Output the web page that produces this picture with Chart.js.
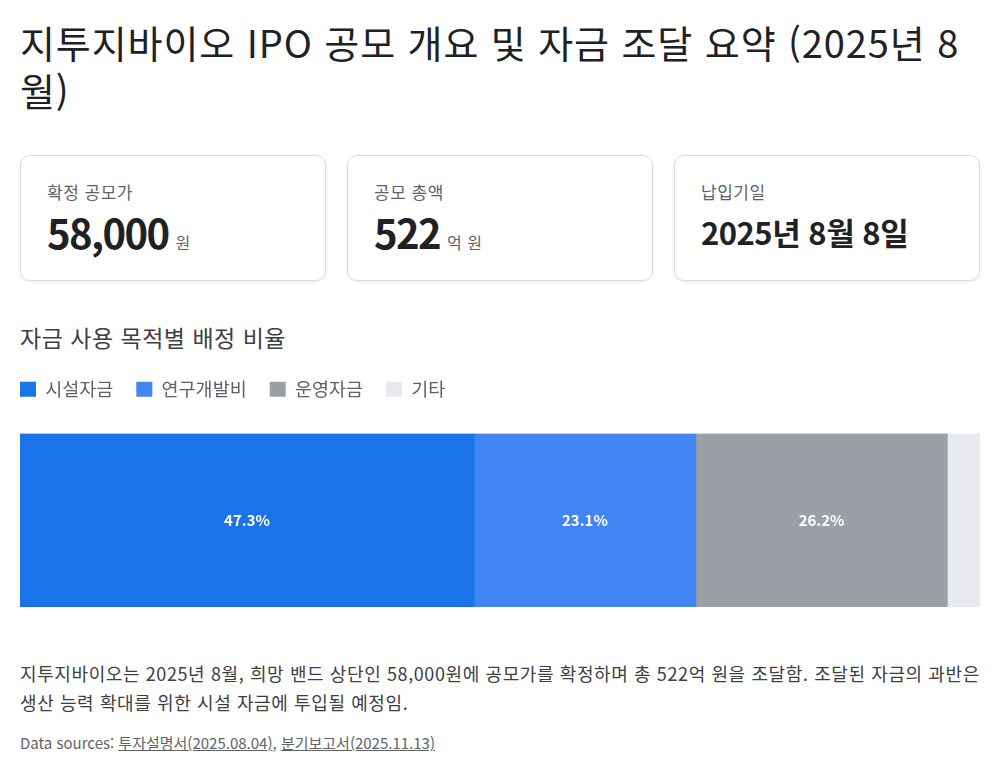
<!DOCTYPE html>
<html lang="ko">
<head>
<meta charset="utf-8">
<script src="https://cdn.jsdelivr.net/npm/chart.js@4.4.1/dist/chart.umd.min.js"></script>
<style>
  html, body { margin: 0; padding: 0; background: #fff; }
  body { width: 1000px; height: 773px; overflow: hidden; font-family: "Noto Sans CJK KR", "Noto Sans", sans-serif; color: #202124; }
  .wrap { padding: 0 20px; }
  h1 { margin: 0; padding-top: 18px; font-size: 38px; line-height: 48px; font-weight: 400; letter-spacing: 0.9px; color: #202124; }
  .cards { display: flex; gap: 21px; margin-top: 41px; }
  .card { box-sizing: border-box; width: 306px; height: 126px; border: 1px solid #dadce0; border-radius: 10px; padding: 24px 26px; box-shadow: 0 1px 3px rgba(60,64,67,0.10); }
  .card .lbl { font-size: 17px; color: #5f6368; line-height: 24px; letter-spacing: 0.5px; }
  .card .val { margin-top: 4px; font-size: 40px; font-weight: 700; line-height: 48px; letter-spacing: -1.6px; color: #202124; }
  .card .val.date { font-size: 31px; letter-spacing: -0.5px; }
  .card .unit { font-size: 16px; font-weight: 400; color: #5f6368; margin-left: 7px; letter-spacing: 0.5px; }
  h2 { margin: 40px 0 0 0; font-size: 23px; font-weight: 400; line-height: 32px; letter-spacing: 0.5px; color: #3c4043; }
  .chartbox { position: relative; width: 960px; height: 250px; margin-top: 4px; }
  p.note { margin: 52px 0 0 0; font-size: 18px; line-height: 29px; letter-spacing: 0.6px; color: #3c4043; word-break: keep-all; }
  p.src { margin: 16px 0 0 0; font-size: 15px; color: #5f6368; line-height: 20px; }
  p.src a { color: #5f6368; text-decoration: underline; }
</style>
</head>
<body>
<div class="wrap">
  <h1>지투지바이오 IPO 공모 개요 및 자금 조달 요약 (2025년 8월)</h1>
  <div class="cards">
    <div class="card"><div class="lbl">확정 공모가</div><div class="val">58,000<span class="unit">원</span></div></div>
    <div class="card"><div class="lbl">공모 총액</div><div class="val">522<span class="unit">억 원</span></div></div>
    <div class="card"><div class="lbl">납입기일</div><div class="val date">2025년 8월 8일</div></div>
  </div>
  <h2>자금 사용 목적별 배정 비율</h2>
  <div class="chartbox"><canvas id="c"></canvas></div>
  <p class="note">지투지바이오는 2025년 8월, 희망 밴드 상단인 58,000원에 공모가를 확정하며 총 522억 원을 조달함. 조달된 자금의 과반은 생산 능력 확대를 위한 시설 자금에 투입될 예정임.</p>
  <p class="src">Data sources: <a>투자설명서(2025.08.04)</a>, <a>분기보고서(2025.11.13)</a></p>
</div>
<script>
const categories = ["자금 사용"];
const seriesNames = ["시설자금", "연구개발비", "운영자금", "기타"];
const seriesValues = [47.3, 23.1, 26.2, 3.4];
const seriesColors = ["#1a73e8", "#4285f4", "#9aa0a6", "#e8eaed"];

const LEGEND_PAD = 23;

const labelPlugin = {
  id: "segLabels",
  afterDatasetsDraw(chart) {
    const ctx = chart.ctx;
    ctx.save();
    ctx.fillStyle = "#ffffff";
    ctx.font = "600 15px 'Noto Sans CJK KR', 'Noto Sans', sans-serif";
    ctx.textAlign = "center";
    ctx.textBaseline = "middle";
    chart.data.datasets.forEach((ds, i) => {
      const meta = chart.getDatasetMeta(i);
      meta.data.forEach((bar, j) => {
        const v = ds.data[j];
        if (v < 5) return;
        const cx = (bar.x + bar.base) / 2;
        ctx.fillText(v.toFixed(1) + "%", cx, bar.y);
      });
    });
    ctx.restore();
  }
};

const legendAdjust = {
  id: "legendAdjust",
  beforeInit(chart) {
    const origFit = chart.legend.fit;
    chart.legend.fit = function () { origFit.call(this); this.height += 25; };
  },
  afterLayout(chart) {
    chart.legend.left -= LEGEND_PAD;
    chart.legend.right -= LEGEND_PAD;
  }
};

new Chart(document.getElementById("c"), {
  type: "bar",
  data: {
    labels: categories,
    datasets: seriesNames.map((n, i) => ({
      label: n,
      data: [seriesValues[i]],
      backgroundColor: seriesColors[i],
      borderWidth: 0,
      barPercentage: 1,
      categoryPercentage: 1
    }))
  },
  options: {
    indexAxis: "y",
    responsive: true,
    maintainAspectRatio: false,
    animation: false,
    layout: { padding: 0 },
    scales: {
      x: { stacked: true, min: 0, max: 100, display: false },
      y: { stacked: true, display: false }
    },
    plugins: {
      legend: {
        position: "top",
        align: "start",
        labels: {
          boxWidth: 16,
          boxHeight: 15,
          padding: LEGEND_PAD,
          color: "#5f6368",
          font: { size: 18.5, family: "'Noto Sans CJK KR', 'Noto Sans', sans-serif" }
        }
      },
      tooltip: { enabled: false }
    }
  },
  plugins: [labelPlugin, legendAdjust]
});
</script>
</body>
</html>
